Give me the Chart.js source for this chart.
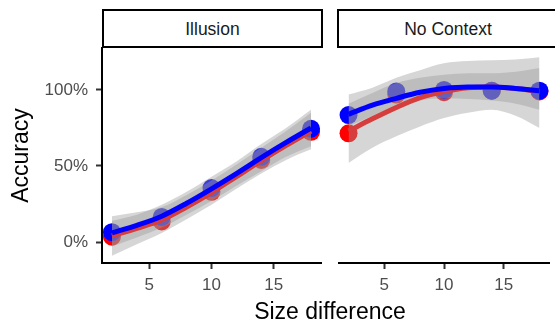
<!DOCTYPE html>
<html>
<head>
<meta charset="utf-8">
<script src="https://cdn.jsdelivr.net/npm/chart.js@4.4.0/dist/chart.umd.min.js"></script>
<style>
  body { margin: 0; background: #fff; }
  #wrap { position: relative; width: 555px; height: 324px; overflow: hidden; font-family: 'Liberation Sans', Arial, sans-serif; }
  canvas { position: absolute; top: 0; }
  #illusion { left: 0; }
  #nocontext { left: 330px; }
  .strip { position: absolute; top: 9px; height: 39px; box-sizing: border-box; border: 2px solid #000; background: #fff;
           text-align: center; line-height: 36px; font-size: 17.5px; color: #1a1a1a; }
  #xtitle { position: absolute; left: 102px; width: 456px; top: 300px; text-align: center; font-size: 23px; line-height: 23px; color: #000; }
</style>
</head>
<body>
<div id="wrap">
  <canvas id="illusion" width="330" height="324"></canvas>
  <canvas id="nocontext" width="228" height="324"></canvas>
  <div class="strip" style="left:102px;width:221px">Illusion</div>
  <div class="strip" style="left:337px;width:222px">No Context</div>
  <div id="xtitle">Size difference</div>
</div>
<script>
// x positions of the observed points and of the smoothed fit
const pointX = [2, 6, 10, 14, 18];
const fitX = [2, 4, 6, 8, 10, 12, 14, 16, 18];
const xTicks = [5, 10, 15];
const yTicks = [0, 50, 100];

// Illusion panel (percent)
const illRedPts = [3.5, 13.5, 33, 54, 72.5];
const illBluePts = [6.5, 16.5, 35.5, 56, 74.5];
const illRedFit = [4, 9, 14.5, 23, 32.5, 43, 53.5, 63.5, 73];
const illRedHigh = [17, 19.5, 23, 31, 40.5, 51, 62, 73, 85];
const illRedLow = [-9, -1.5, 6, 15, 24.5, 35, 45, 54, 61];
const illBlueFit = [6, 11, 17, 25.5, 35, 45, 55.5, 65.5, 75];
const illBlueHigh = [14, 18, 24.5, 33, 43, 53, 64.5, 75, 87];
const illBlueLow = [-3, 3, 9.5, 18, 27, 37, 46.5, 56, 63];

// No Context panel (percent)
const ncRedPts = [71.5, 97, 98.5, 99.5, 99];
const ncBluePts = [83.5, 99, 100, 99.5, 99.5];
const ncRedFit = [73, 81, 88.5, 95, 99, 101.5, 102, 101, 99];
const ncRedHigh = [97, 101.5, 108, 113, 117.5, 119, 119.5, 120, 121.5];
const ncRedLow = [52, 62, 69.5, 76, 81.5, 85, 87, 83, 75];
const ncBlueFit = [84, 90, 94.5, 98.5, 101, 102, 102, 101, 99.5];
const ncBlueHigh = [91, 98, 104.5, 108, 110, 111, 111, 112, 114.5];
const ncBlueLow = [76, 83, 89, 93, 94.5, 94, 93, 91, 87];

const FONT = 'Liberation Sans, Arial, sans-serif';
const RIBBON = 'rgba(153,153,153,0.4)';
const NONE = 'rgba(0,0,0,0)';

function pts(xs, ys) {
  return xs.map((x, i) => ({ x: x, y: ys[i] }));
}

function fitLine(ys, color, order) {
  return { type: 'line', data: pts(fitX, ys), borderColor: color, borderWidth: 5, pointRadius: 0,
           fill: false, cubicInterpolationMode: 'monotone', order: order };
}

function band(ys, fill, order) {
  return { type: 'line', data: pts(fitX, ys), borderColor: NONE, borderWidth: 0, pointRadius: 0,
           backgroundColor: RIBBON, fill: fill, cubicInterpolationMode: 'monotone', order: order };
}

function dots(ys, color, order) {
  return { type: 'scatter', data: pts(pointX, ys), pointRadius: 9, pointBackgroundColor: color,
           pointBorderWidth: 0, borderWidth: 0, showLine: false, order: order };
}

// lower order is drawn on top: points, ribbons, red line, blue line
function makeChart(id, p, showY) {
  const datasets = [
    fitLine(p.blueFit, '#0000ff', 1),
    fitLine(p.redFit, '#d63d3d', 2),
    band(p.blueLow, false, 4),
    band(p.blueHigh, { target: 2 }, 3),
    band(p.redLow, false, 6),
    band(p.redHigh, { target: 4 }, 5),
    dots(p.bluePts, '#0000ff', 7),
    dots(p.redPts, '#ff0000', 8)
  ];

  return new Chart(document.getElementById(id), {
    data: { datasets: datasets },
    options: {
      responsive: false,
      animation: false,
      events: [],
      layout: { padding: showY ? { top: 48, right: 8, left: 0, bottom: 0 } : { top: 48, right: 0, left: 8, bottom: 0 } },
      plugins: { legend: { display: false }, tooltip: { enabled: false } },
      scales: {
        x: {
          type: 'linear', min: 1.2, max: 18.8,
          afterBuildTicks: a => { a.ticks = xTicks.map(v => ({ value: v })); },
          afterFit: s => { s.height = 61; },
          border: { display: true, color: '#000', width: 2 },
          grid: { drawOnChartArea: false, drawTicks: true, tickLength: 6, tickColor: '#333', tickWidth: 2 },
          ticks: { font: { family: FONT, size: 17 }, color: '#4d4d4d', padding: 6, maxRotation: 0 }
        },
        y: {
          type: 'linear', min: -13.8, max: 127.6, display: showY,
          afterBuildTicks: a => { a.ticks = yTicks.map(v => ({ value: v })); },
          afterFit: s => { s.width = showY ? 102 : 0; },
          border: { display: true, color: '#000', width: 2 },
          grid: { drawOnChartArea: false, drawTicks: true, tickLength: 6, tickColor: '#333', tickWidth: 2 },
          ticks: { font: { family: FONT, size: 17 }, color: '#4d4d4d', padding: 8, callback: v => v + '%' },
          title: { display: true, text: 'Accuracy', font: { family: FONT, size: 23 }, color: '#000', padding: { top: 8, bottom: 0 } }
        }
      }
    }
  });
}

makeChart('illusion', {
  redPts: illRedPts, bluePts: illBluePts,
  redFit: illRedFit, redHigh: illRedHigh, redLow: illRedLow,
  blueFit: illBlueFit, blueHigh: illBlueHigh, blueLow: illBlueLow
}, true);

makeChart('nocontext', {
  redPts: ncRedPts, bluePts: ncBluePts,
  redFit: ncRedFit, redHigh: ncRedHigh, redLow: ncRedLow,
  blueFit: ncBlueFit, blueHigh: ncBlueHigh, blueLow: ncBlueLow
}, false);
</script>
</body>
</html>
